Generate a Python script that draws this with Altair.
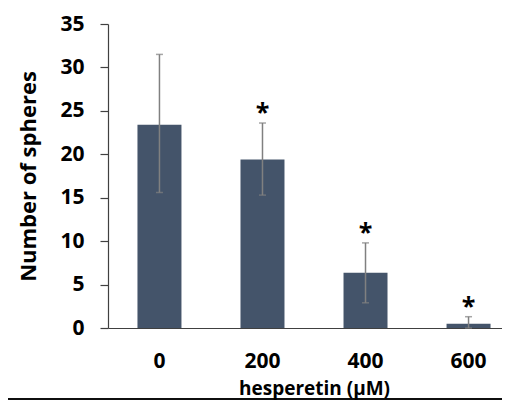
import altair as alt
import pandas as pd

doses = ["0", "200", "400", "600"]
means = [23.4, 19.4, 6.35, 0.5]
lows = [15.6, 15.3, 2.9, 0.0]
highs = [31.5, 23.6, 9.8, 1.3]
marks = ["", "*", "*", "*"]

df = pd.DataFrame({"dose": doses, "mean": means, "low": lows, "high": highs, "star": marks})

FONT = "Open Sans"
x = alt.X("dose:N", sort=doses, title="hesperetin (μM)",
          scale=alt.Scale(range=[0, 412], paddingInner=0.573, paddingOuter=0.286),
          axis=alt.Axis(labelAngle=0, ticks=False, labelPadding=22, titlePadding=8,
                        titleFontSize=19,
                        domainColor="#404040", domainWidth=1.2))

bars = alt.Chart(df).mark_bar(color="#44546A").encode(
    x=x,
    y=alt.Y("mean:Q", title="Number of spheres",
            scale=alt.Scale(domain=[0, 35], nice=False),
            axis=alt.Axis(values=[0, 5, 10, 15, 20, 25, 30, 35], tickSize=8,
                          labelPadding=16, titlePadding=19, grid=False,
                          domainColor="#404040", tickColor="#404040",
                          domainWidth=1.2, tickWidth=1.2)),
)

err = alt.Chart(df).mark_rule(color="#808080", strokeWidth=1.5).encode(
    x=alt.X("dose:N", sort=doses), y="low:Q", y2="high:Q")
cap_hi = alt.Chart(df).mark_tick(color="#808080", thickness=1.5, size=7, orient="horizontal").encode(
    x=alt.X("dose:N", sort=doses), y="high:Q")
cap_lo = alt.Chart(df).mark_tick(color="#808080", thickness=1.5, size=7, orient="horizontal").encode(
    x=alt.X("dose:N", sort=doses), y="low:Q")

stars = alt.Chart(df).mark_text(font=FONT, fontSize=25, fontWeight="bold", color="#000000",
                                baseline="middle", dy=-10).encode(
    x=alt.X("dose:N", sort=doses), y="high:Q", text="star:N")

border = alt.Chart(df).mark_rule(color="#000000", strokeWidth=1.2).encode(
    x=alt.value(-120), x2=alt.value(420), y=alt.value(375))

chart = alt.layer(bars, err, cap_hi, cap_lo, stars, border).properties(
    width=394, height=304,
    autosize=alt.AutoSizeParams(type="none"),
    padding={"left": 100, "top": 16, "right": 0, "bottom": 72},
).configure_view(stroke=None).configure_axis(
    labelFont=FONT, titleFont=FONT, labelFontSize=21, titleFontSize=22,
    labelFontWeight="bold", titleFontWeight="bold",
    labelColor="#000000", titleColor="#000000",
)

chart.save("out.html", embed_options={"renderer": "svg", "actions": False})
